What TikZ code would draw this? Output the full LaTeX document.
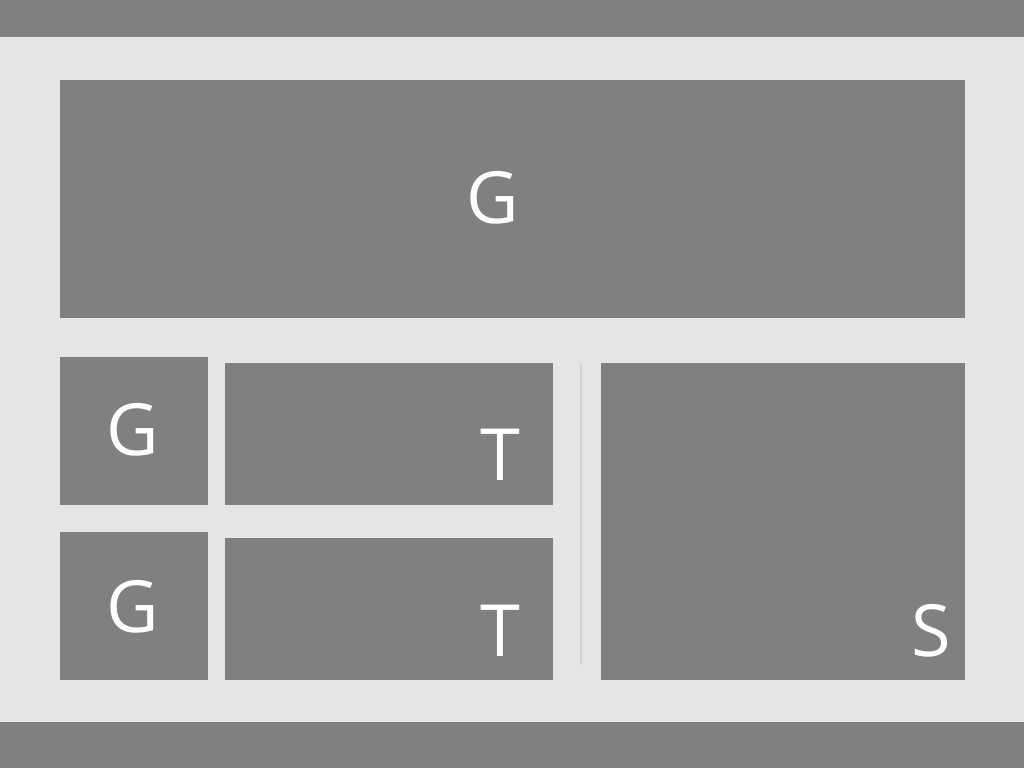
\documentclass[tikz,border=0pt]{standalone}
\usepackage{fontspec}
\setmainfont{Open Sans}
\definecolor{bgback}{RGB}{229,229,229}
\definecolor{tilegray}{RGB}{128,128,128}
\definecolor{seprule}{RGB}{212,212,212}
\tikzset{tile/.style={fill=tilegray},
         tilelab/.style={text=white,anchor=base,inner sep=0pt,font=\fontsize{54}{60}\selectfont}}

\begin{document}
\begin{tikzpicture}[x=0.75pt,y=-0.75pt]
    \fill[bgback] (0,0) rectangle (1024,768);
    \fill[tile] (0,0) rectangle (1024,37); \fill[tile] (0,722) rectangle (1024,768);
    \fill[tile] (60,80) rectangle (965,318);
    \foreach \y in {357,532} {\fill[tile] (60,\y) rectangle (208,\y+148);}
    \foreach \y in {363,538} {\fill[tile] (225,\y) rectangle (553,\y+142);}
    \fill[tile] (601,363) rectangle (965,680);
    \coordinate (sept) at (581,363); \coordinate (sepb) at (581,665);
    \draw[seprule,line width=1.5pt] (sept)--(sepb);
    \node[tilelab] (g0) at (493,223) {G};
    \node[tilelab] (g1) at (133,455) {G}; \node[tilelab] (g2) at (133,632) {G};
    \node[tilelab] (t1) at (500,480) {T}; \node[tilelab] (t2) at (500,656) {T};
    \node[tilelab] (s) at (931,656) {S};
  \end{tikzpicture}
\end{document}
